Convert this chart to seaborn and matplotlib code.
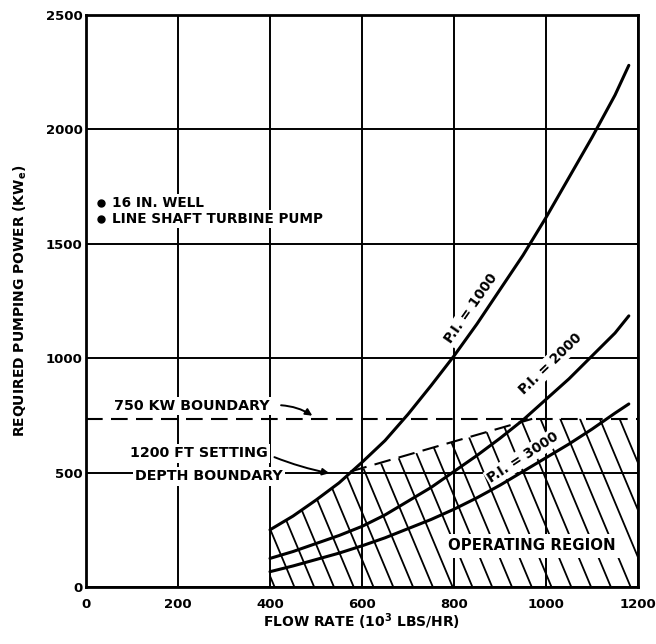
import numpy as np
import pandas as pd
import matplotlib
matplotlib.use("Agg")
import matplotlib.pyplot as plt
import seaborn as sns
from matplotlib.patches import Polygon

# ---- data ----
flow = [400, 450, 500, 550, 600, 650, 700, 750, 800, 850, 900, 950, 1000, 1050, 1100, 1150, 1180]
pi1000 = [250, 310, 380, 455, 545, 640, 755, 880, 1010, 1150, 1300, 1450, 1615, 1790, 1965, 2150, 2280]
pi2000 = [125, 155, 190, 225, 265, 315, 375, 435, 505, 575, 650, 730, 820, 910, 1010, 1110, 1185]
pi3000 = [67, 92, 120, 148, 180, 215, 255, 295, 340, 390, 445, 505, 565, 625, 690, 760, 800]
curve_names = ["P.I. = 1000", "P.I. = 2000", "P.I. = 3000"]

kw_boundary = 735           # 750 KW boundary level as drawn
depth_x = [575, 970]        # 1200 ft setting depth boundary
depth_y = [505, 735]
region_left, region_right = 400, 1200

xticks = [0, 200, 400, 600, 800, 1000, 1200]
yticks = [0, 500, 1000, 1500, 2000, 2500]

n = len(flow)
df = pd.DataFrame({
    "flow": flow * 3,
    "power": pi1000 + pi2000 + pi3000,
    "curve": [curve_names[0]] * n + [curve_names[1]] * n + [curve_names[2]] * n,
})

sns.set_style("white")
plt.rcParams["font.family"] = ["DejaVu Sans"]
plt.rcParams["font.weight"] = "bold"
plt.rcParams["text.color"] = "black"
plt.rcParams["axes.labelcolor"] = "black"
plt.rcParams["xtick.color"] = "black"
plt.rcParams["ytick.color"] = "black"
plt.rcParams["xtick.labelcolor"] = "black"
plt.rcParams["ytick.labelcolor"] = "black"
plt.rcParams["mathtext.fontset"] = "custom"
plt.rcParams["mathtext.rm"] = "DejaVu Sans:bold"
plt.rcParams["mathtext.it"] = "DejaVu Sans:bold"
plt.rcParams["mathtext.bf"] = "DejaVu Sans:bold"
plt.rcParams["mathtext.default"] = "rm"

fig = plt.figure(figsize=(6.56, 6.44), dpi=100)
ax = fig.add_axes([0.1311, 0.0885, 0.8415, 0.8882])

sns.lineplot(data=df, x="flow", y="power", hue="curve", palette=["black"] * 3,
             ax=ax, linewidth=2.2, legend=False, zorder=5, sort=True)

ax.set_xlim(0, 1200)
ax.set_ylim(0, 2500)
ax.set_xticks(xticks)
ax.set_yticks(yticks)
ax.set_xticklabels([str(t) for t in xticks], fontsize=9.5, fontweight="bold", color="black")
ax.set_yticklabels([str(t) for t in yticks], fontsize=9.5, fontweight="bold", color="black")
ax.tick_params(axis="x", length=0, pad=8)
ax.tick_params(axis="y", length=0, pad=2.5)
ax.grid(True, color="black", linewidth=1.4, zorder=1)
ax.set_axisbelow(True)
for s in ax.spines.values():
    s.set_linewidth(2.0)
    s.set_color("black")
    s.set_zorder(6)

ax.set_xlabel("FLOW RATE (10$^{3}$ LBS/HR)", fontsize=10, fontweight="bold", color="black")
ax.set_ylabel("REQUIRED PUMPING POWER (KW$_{e}$)", fontsize=10, fontweight="bold", color="black")
ax.xaxis.set_label_coords(0.5, -0.043)
ax.yaxis.set_label_coords(-0.103, 0.5)

# boundaries
ax.plot([0, 1200], [kw_boundary, kw_boundary], color="black", lw=1.5,
        dashes=(8, 4), zorder=4)
ax.plot(depth_x, depth_y, color="black", lw=1.5, dashes=(8, 4), zorder=4)

# operating region polygon (built from data)
xs_curve = np.linspace(region_left, depth_x[0], 20)
ys_curve = np.interp(xs_curve, flow, pi1000)
poly_pts = [(region_left, 0)] + list(zip(xs_curve, ys_curve)) + \
    [(depth_x[1], depth_y[1]), (region_right, kw_boundary), (region_right, 0)]
clip = Polygon(poly_pts, closed=True, transform=ax.transData, facecolor="none",
               edgecolor="none")
ax.add_patch(clip)

slope = 4.8
spacing = 43
for x0 in np.arange(region_left + 10, region_right + kw_boundary / slope + spacing, spacing):
    ln, = ax.plot([x0, x0 - 900 / slope], [0, 900], color="black", lw=1.3, zorder=3)
    ln.set_clip_path(clip)

# texts
box = dict(facecolor="white", edgecolor="none", pad=1.5)
ax.plot([33, 33], [1680, 1608], "o", color="black", ms=5, zorder=7)
ax.text(56, 1680, "16 IN. WELL", fontsize=9.8, fontweight="bold", va="center", ha="left",
        bbox=box, zorder=4)
ax.text(56, 1608, "LINE SHAFT TURBINE PUMP", fontsize=9.8, fontweight="bold", va="center",
        ha="left", bbox=box, zorder=4)

ax.text(231, 791, "750 KW BOUNDARY", fontsize=10.3, fontweight="bold", va="center",
        ha="center", bbox=box, zorder=4)
ax.annotate("", xy=(497, 742), xytext=(418, 795),
            arrowprops=dict(arrowstyle="-|>", color="black", lw=1.4,
                            connectionstyle="arc3,rad=-0.15", mutation_scale=10), zorder=6)

ax.text(246, 584, "1200 FT SETTING", fontsize=10.3, fontweight="bold", va="center",
        ha="center", bbox=box, zorder=4)
ax.text(268, 483, "DEPTH BOUNDARY", fontsize=10.3, fontweight="bold", va="center",
        ha="center", bbox=box, zorder=4)
ax.annotate("", xy=(535, 495), xytext=(404, 572),
            arrowprops=dict(arrowstyle="-|>", color="black", lw=1.4,
                            connectionstyle="arc3,rad=0.05", mutation_scale=10), zorder=6)

ax.text(970, 180, "OPERATING REGION", fontsize=10.8, fontweight="bold", va="center",
        ha="center", bbox=dict(facecolor="white", edgecolor="none", pad=3), zorder=4)

ax.text(838, 1219, curve_names[0], fontsize=9.8, fontweight="bold", rotation=55,
        va="center", ha="center", rotation_mode="anchor", bbox=box, zorder=4)
ax.text(1009, 974, curve_names[1], fontsize=9.8, fontweight="bold", rotation=44,
        va="center", ha="center", rotation_mode="anchor", bbox=box, zorder=4)
ax.text(951, 567, curve_names[2], fontsize=9.8, fontweight="bold", rotation=33,
        va="center", ha="center", rotation_mode="anchor", bbox=box, zorder=4)

fig.savefig("out.png", dpi=100, facecolor="white")
